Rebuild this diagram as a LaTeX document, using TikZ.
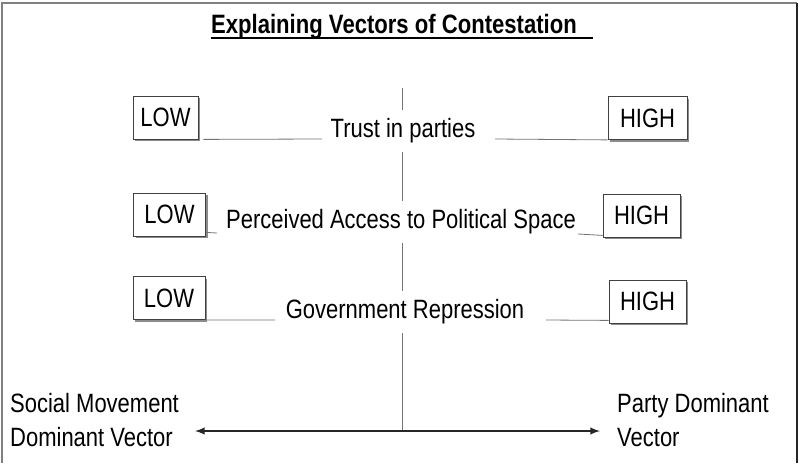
\documentclass[tikz,border=0pt]{standalone}
\usepackage{fontspec}
\setmainfont{Liberation Sans}[FakeStretch=0.83]
\usetikzlibrary{shadows}

\tikzset{
  lvl/.style={draw=black!75, line width=.8pt, fill=white, minimum width=72pt,
    minimum height=43pt, inner sep=0pt,
    drop shadow={shadow xshift=2pt, shadow yshift=-2pt, fill=black!45, opacity=1}},
  factor/.style={fill=white, inner xsep=3pt, inner ysep=9pt},
  link/.style={draw=black!55, line width=.8pt},
}

\begin{document}
\begin{tikzpicture}[x=1pt, y=-1pt, >=latex, font=\fontsize{26.5}{34}\selectfont]
\useasboundingbox (0,0) rectangle (799,463);
% frame
\draw[black!50, line width=2.5pt] (2,463) -- (2,3) -- (797,3);
\draw[black!85, line width=2.5pt] (797,3) -- (797,463);

% title
\node[anchor=base west, inner xsep=0pt, font=\fontsize{26.6}{30}\selectfont\bfseries] (title) at (211,33) {Explaining Vectors of Contestation};
\draw[line width=1.3pt] ([yshift=-5pt]title.base west) -- ++(382,0);

% axis
\coordinate (axtop) at (402,88);
\coordinate (axbot) at (402,431);
\draw[black!55, line width=.8pt] (axtop) -- (axbot);

% factors
\node[factor] (trust) at (403,131) {Trust in parties};
\node[factor] (access) at (401,222) {Perceived Access to Political Space};
\node[factor] (repr) at (405,312) {Government Repression};

% low / high boxes
\node[lvl, minimum width=65pt] (low1) at (165.5,117.5) {LOW};
\node[lvl, minimum width=79pt] (high1) at (647.5,118) {HIGH};
\node[lvl] (low2) at (169.5,214.5) {LOW};
\node[lvl, minimum width=77pt] (high2) at (641.5,215.5) {HIGH};
\node[lvl] (low3) at (169,298) {LOW};
\node[lvl, minimum width=77pt] (high3) at (647.5,301.5) {HIGH};

% links
\coordinate (t1l) at (322,139);
\coordinate (t1r) at (495,139);
\draw[link] ([xshift=5pt]low1.south east) -- (t1l);
\draw[link] (t1r) -- (high1.south west);
\coordinate (a2l) at (217,233);
\coordinate (a2r) at (578,234);
\draw[link] ([yshift=4pt]low2.south east) -- (a2l);
\draw[link] (a2r) -- ([yshift=2pt]high2.south west);
\coordinate (r3l) at (275,320);
\coordinate (r3r) at (546,320);
\draw[link] (low3.south east) -- (r3l);
\draw[link] (r3r) -- ([yshift=3pt]high3.south west);

% vectors
\coordinate (smv) at (195,431);
\coordinate (pdv) at (600,431);
\draw[<->, black!85, line width=2.3pt] (smv) -- (pdv);
\node[anchor=base west, align=left, inner sep=0pt] (social) at (10,446) {Social Movement\\Dominant Vector};
\node[anchor=base west, align=left, inner sep=0pt] (party) at (617,446) {Party Dominant\\Vector};
\end{tikzpicture}
\end{document}
